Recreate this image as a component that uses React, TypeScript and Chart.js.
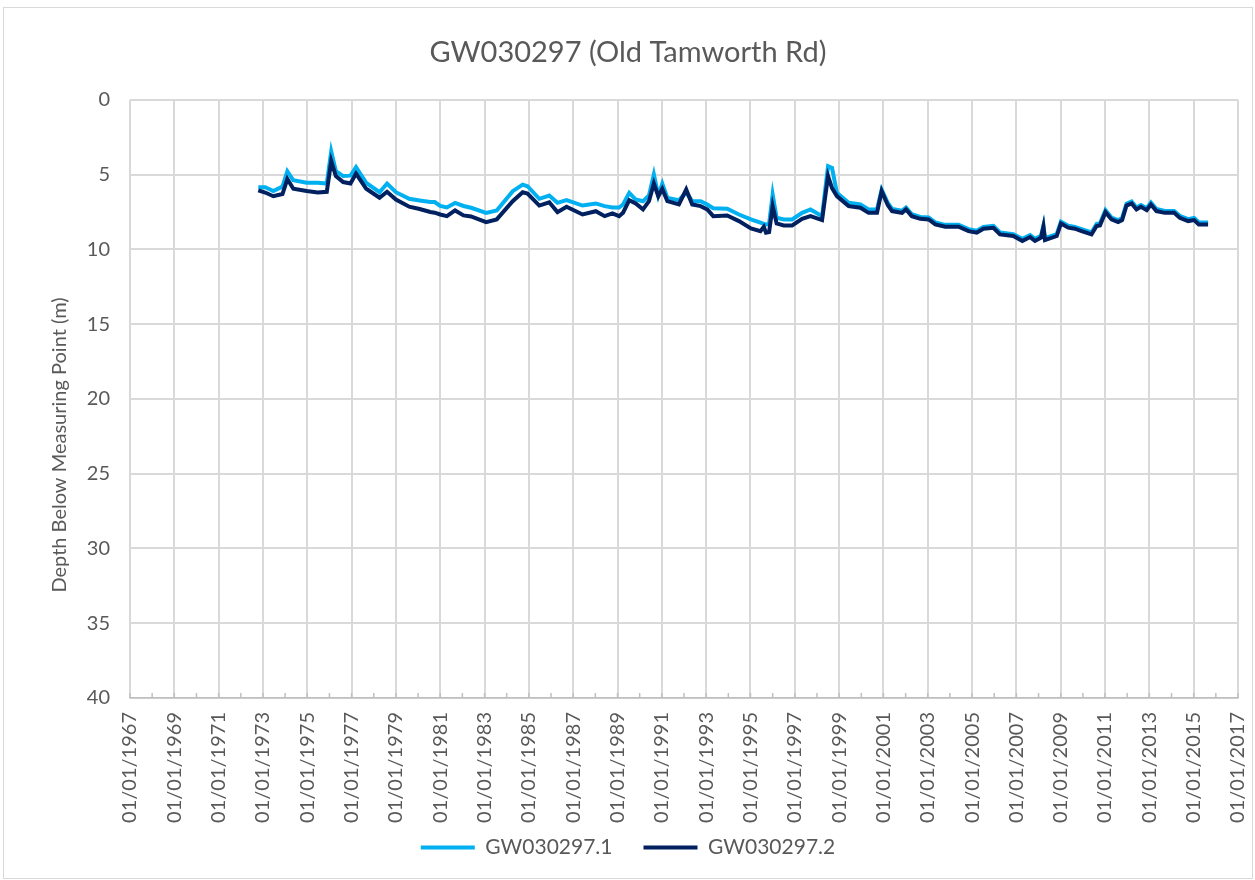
import React, { useEffect, useRef } from "react";
import { Chart, registerables } from "chart.js";

Chart.register(...registerables);

const TITLE = "GW030297 (Old Tamworth Rd)";
const Y_TITLE = "Depth Below Measuring Point (m)";
const SERIES_NAMES = ["GW030297.1", "GW030297.2"];
const COLORS = ["#00B0F0", "#002060"];

// decimal years of the readings
const dates = [
  1972.79, 1973.1, 1973.47, 1973.88, 1974.1, 1974.37, 1974.97, 1975.47, 1975.88, 1976.08,
  1976.29, 1976.62, 1976.95, 1977.2, 1977.66, 1978.26, 1978.6, 1979.0, 1979.6, 1980.07,
  1980.55, 1980.75, 1981.0, 1981.3, 1981.67, 1982.05, 1982.39, 1983.07, 1983.55, 1984.27,
  1984.72, 1984.94, 1985.47, 1985.92, 1986.29, 1986.7, 1987.42, 1988.02, 1988.42, 1988.77,
  1989.07, 1989.25, 1989.53, 1989.82, 1990.15, 1990.42, 1990.64, 1990.84, 1991.02, 1991.25,
  1991.77, 1992.1, 1992.37, 1992.75, 1993.05, 1993.32, 1993.95, 1994.48, 1995.02, 1995.45,
  1995.6, 1995.7, 1995.84, 1996.0, 1996.18, 1996.5, 1996.88, 1997.33, 1997.71, 1998.23,
  1998.5, 1998.68, 1998.9, 1999.43, 1999.96, 2000.33, 2000.71, 2000.92, 2001.2, 2001.39,
  2001.84, 2002.02, 2002.28, 2002.66, 2003.04, 2003.34, 2003.79, 2004.39, 2004.84, 2005.21,
  2005.51, 2005.96, 2006.26, 2006.86, 2007.27, 2007.62, 2007.84, 2008.11, 2008.22, 2008.29,
  2008.82, 2009.01, 2009.34, 2009.64, 2009.94, 2010.39, 2010.62, 2010.77, 2011.02, 2011.29,
  2011.59, 2011.77, 2011.97, 2012.2, 2012.42, 2012.62, 2012.88, 2013.07, 2013.32, 2013.7,
  2014.12, 2014.37, 2014.75, 2015.02, 2015.23, 2015.65,
];

const depth1 = [
  5.85, 5.85, 6.1, 5.8, 4.78, 5.38, 5.55, 5.55, 5.6, 3.45,
  4.78, 5.1, 5.07, 4.5, 5.55, 6.18, 5.6, 6.18, 6.62, 6.73,
  6.84, 6.84, 7.1, 7.2, 6.9, 7.1, 7.22, 7.56, 7.4, 6.11,
  5.67, 5.78, 6.62, 6.4, 6.89, 6.71, 7.07, 6.93, 7.11, 7.2,
  7.2, 7.0, 6.22, 6.67, 6.78, 6.4, 5.0, 6.4, 5.6, 6.56,
  6.71, 6.2, 6.78, 6.78, 7.0, 7.25, 7.29, 7.67, 8.0, 8.22,
  8.3, 8.33, 8.3, 6.33, 7.89, 8.0, 8.0, 7.56, 7.33, 7.78,
  4.44, 4.55, 6.22, 6.89, 7.0, 7.33, 7.33, 6.0, 6.9, 7.3,
  7.42, 7.2, 7.65, 7.83, 7.87, 8.2, 8.36, 8.36, 8.65, 8.76,
  8.5, 8.43, 8.87, 8.98, 9.3, 9.05, 9.3, 9.1, 8.4, 9.25,
  8.98, 8.15, 8.42, 8.5, 8.65, 8.87, 8.3, 8.27, 7.38, 7.87,
  8.05, 7.9, 6.95, 6.8, 7.2, 7.03, 7.25, 6.87, 7.3, 7.43,
  7.43, 7.76, 7.98, 7.9, 8.2, 8.2,
];

const depth2 = [
  6.05, 6.2, 6.45, 6.3, 5.3, 5.95, 6.1, 6.2, 6.15, 4.1,
  5.1, 5.5, 5.6, 4.93, 5.95, 6.55, 6.15, 6.67, 7.15, 7.3,
  7.5, 7.55, 7.67, 7.78, 7.4, 7.73, 7.8, 8.18, 8.0, 6.78,
  6.18, 6.27, 7.07, 6.85, 7.51, 7.15, 7.67, 7.45, 7.78, 7.6,
  7.78, 7.55, 6.71, 6.93, 7.33, 6.78, 5.6, 6.45, 5.96, 6.78,
  7.0, 6.0, 7.0, 7.11, 7.33, 7.78, 7.73, 8.11, 8.6, 8.78,
  8.49, 8.89, 8.84, 7.11, 8.27, 8.4, 8.4, 7.96, 7.78, 8.04,
  5.1, 5.9, 6.44, 7.11, 7.22, 7.56, 7.56, 6.11, 7.05, 7.44,
  7.56, 7.33, 7.78, 7.96, 8.0, 8.33, 8.49, 8.49, 8.78, 8.89,
  8.62, 8.56, 9.0, 9.11, 9.44, 9.18, 9.44, 9.22, 8.49, 9.38,
  9.11, 8.27, 8.55, 8.62, 8.78, 9.0, 8.44, 8.4, 7.51, 8.0,
  8.18, 8.04, 7.07, 6.93, 7.33, 7.16, 7.38, 7.0, 7.44, 7.56,
  7.56, 7.89, 8.11, 8.04, 8.33, 8.33,
];

const X_MIN = 1967;
const X_MAX = 2017;
const X_LABEL_STEP = 2;
const Y_MIN = 0;
const Y_MAX = 40;
const Y_STEP = 5;

const FONT = "Lato, 'Open Sans', sans-serif";
const TEXT_COLOR = "#595959";
const GRID_COLOR = "#d9d9d9";

const minorTicks = {
  id: "minorTicks",
  afterDatasetsDraw(chart: any) {
    const x = chart.scales.x;
    const ctx = chart.ctx;
    const bottom = chart.chartArea.bottom;
    ctx.save();
    ctx.strokeStyle = "#bfbfbf";
    ctx.lineWidth = 1.5;
    for (let v = X_MIN; v <= X_MAX; v++) {
      const px = x.getPixelForValue(v);
      ctx.beginPath();
      ctx.moveTo(px, bottom);
      ctx.lineTo(px, bottom - 5);
      ctx.stroke();
    }
    ctx.restore();
  },
};

export default function App() {
  const ref = useRef<HTMLCanvasElement | null>(null);

  useEffect(() => {
    if (!ref.current) return;
    const mk = (vals: number[]) => dates.map((d, i) => ({ x: d, y: vals[i] }));
    const chart = new Chart(ref.current, {
      type: "line",
      data: {
        datasets: [
          {
            label: SERIES_NAMES[0],
            data: mk(depth1),
            borderColor: COLORS[0],
            backgroundColor: COLORS[0],
            borderWidth: 4,
            pointRadius: 0,
            tension: 0,
            fill: false,
            order: 2,
          },
          {
            label: SERIES_NAMES[1],
            data: mk(depth2),
            borderColor: COLORS[1],
            backgroundColor: COLORS[1],
            borderWidth: 4,
            pointRadius: 0,
            tension: 0,
            fill: false,
            order: 1,
          },
        ],
      },
      options: {
        animation: false,
        responsive: true,
        maintainAspectRatio: false,
        layout: { padding: { left: 0, right: 0, top: 0, bottom: 10 } },
        plugins: {
          title: {
            display: true,
            text: TITLE,
            color: TEXT_COLOR,
            font: { family: FONT, size: 29, weight: "normal" },
            padding: { top: 27, bottom: 30 },
          },
          legend: {
            position: "bottom",
            labels: {
              color: TEXT_COLOR,
              font: { family: FONT, size: 21 },
              usePointStyle: true,
              pointStyleWidth: 54,
              pointStyle: "line",
              padding: 31,
              sort: (a: any, b: any) => a.datasetIndex - b.datasetIndex,
            },
          },
          tooltip: { enabled: false },
        },
        scales: {
          x: {
            type: "linear",
            min: X_MIN,
            max: X_MAX,
            afterFit: (s: any) => {
              s.height = 108;
              s.paddingLeft = 0;
              s.paddingRight = 14;
              s._computeLabelArea = () => undefined;
            },
            ticks: {
              stepSize: 1,
              autoSkip: false,
              maxRotation: 90,
              minRotation: 90,
              padding: 14,
              color: TEXT_COLOR,
              font: { family: FONT, size: 20 },
              callback: (v: any) =>
                (Number(v) - X_MIN) % X_LABEL_STEP === 0 ? "01/01/" + v : "",
            },
            grid: {
              drawTicks: false,
              lineWidth: 2,
              color: (c: any) =>
                c.tick && (c.tick.value - X_MIN) % X_LABEL_STEP === 0 ? GRID_COLOR : "rgba(0,0,0,0)",
            },
            border: { display: true, color: "#bfbfbf", width: 1.5 },
          },
          y: {
            reverse: true,
            min: Y_MIN,
            max: Y_MAX,
            afterFit: (s: any) => {
              s.width = 126;
              s.paddingTop = 0;
              s.paddingBottom = 0;
            },
            ticks: {
              stepSize: Y_STEP,
              padding: 20,
              color: TEXT_COLOR,
              font: { family: FONT, size: 20 },
            },
            title: {
              display: true,
              text: Y_TITLE + " ".repeat(18),
              color: TEXT_COLOR,
              font: { family: FONT, size: 20 },
              padding: { top: 44, bottom: 6 },
            },
            grid: { drawTicks: false, lineWidth: 2, color: GRID_COLOR },
            border: { display: false },
          },
        },
      },
      plugins: [minorTicks],
    } as any);
    return () => chart.destroy();
  }, []);

  return (
    <div
      style={{
        position: "fixed",
        left: 3,
        top: 7,
        width: 1250,
        height: 872,
        border: "1px solid #d9d9d9",
        boxSizing: "border-box",
        background: "#fff",
      }}
    >
      <canvas ref={ref} />
    </div>
  );
}
